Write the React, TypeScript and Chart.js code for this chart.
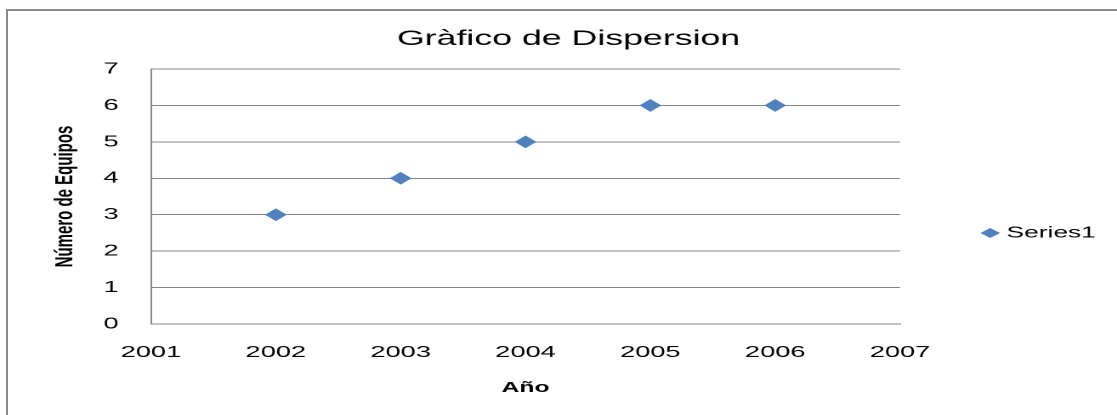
import React, { useEffect, useRef } from 'react';
import { Chart, registerables } from 'chart.js';

Chart.register(...registerables);

// ---- data ----
const chartTitle = 'Gràfico de Dispersion';
const seriesName = 'Series1';
const years = [2002, 2003, 2004, 2005, 2006];
const teams = [3, 4, 5, 6, 6];
const xTickLabels = ['2001', '2002', '2003', '2004', '2005', '2006', '2007'];
const yTickLabels = ['0', '1', '2', '3', '4', '5', '6', '7'];
const xAxisTitle = 'Año';
const yAxisTitle = 'Número de Equipos';

// ---- look ----
// The reference is horizontally stretched: the chart is drawn on a narrower
// logical canvas and displayed at full page width.
const W = 657;
const H = 415;
const DISPLAY_W = 1117;
const FONT = "'Liberation Sans', Arial, sans-serif";
const BLUE = '#4f81bd';
const GRID = '#868686';

const textPlugin = {
  id: 'excelText',
  afterDraw(chart: any) {
    const ctx = chart.ctx as CanvasRenderingContext2D;
    ctx.save();
    ctx.fillStyle = '#000';
    ctx.font = `21px ${FONT}`;
    ctx.textAlign = 'center';
    ctx.textBaseline = 'middle';
    ctx.fillText(chartTitle, 334.4, 39);

    const ds = chart.data.datasets[0];
    const mx = 582.4;
    const my = 233;
    const rx = 5.8;
    const ry = 5;
    ctx.fillStyle = ds.backgroundColor;
    ctx.beginPath();
    ctx.moveTo(mx, my - ry);
    ctx.lineTo(mx + rx, my);
    ctx.lineTo(mx, my + ry);
    ctx.lineTo(mx - rx, my);
    ctx.closePath();
    ctx.fill();

    ctx.fillStyle = '#000';
    ctx.font = `15.5px ${FONT}`;
    ctx.textAlign = 'left';
    ctx.fillText(ds.label, 592, my);
    ctx.restore();
  },
};

export default function App() {
  const ref = useRef<HTMLCanvasElement | null>(null);

  useEffect(() => {
    const canvas = ref.current;
    if (!canvas) return;
    const chart = new Chart(canvas, {
      type: 'scatter',
      data: {
        datasets: [
          {
            label: seriesName,
            data: years.map((x, i) => ({ x, y: teams[i] })),
            backgroundColor: BLUE,
            borderColor: BLUE,
            pointStyle: 'rectRot',
            pointRadius: 6.4,
            pointHoverRadius: 6.4,
            pointBorderWidth: 0,
          },
        ],
      },
      options: {
        responsive: false,
        animation: false,
        devicePixelRatio: 2,
        events: [],
        layout: { padding: { left: 0, right: W - 529.4, top: 69, bottom: 0 } },
        plugins: {
          legend: { display: false },
          title: { display: false },
          tooltip: { enabled: false },
        },
        scales: {
          x: {
            type: 'linear',
            position: 'bottom',
            min: 2001,
            max: 2007,
            afterFit: (s: any) => {
              s.height = H - 324;
            },
            grid: { display: false, drawTicks: false },
            border: { display: true, color: GRID, width: 1 },
            ticks: {
              stepSize: 1,
              padding: 19,
              color: '#000',
              maxRotation: 0,
              autoSkip: false,
              font: { family: FONT, size: 16 },
              callback: (_v: any, i: number) => xTickLabels[i],
            },
            title: {
              display: true,
              text: xAxisTitle,
              color: '#000',
              font: { family: FONT, size: 14.5, weight: 'bold' },
              padding: { top: 0, bottom: 18.3 },
            },
          },
          y: {
            type: 'linear',
            min: 0,
            max: 7,
            afterFit: (s: any) => {
              s.width = 88.8;
            },
            grid: { color: GRID, lineWidth: 1, drawTicks: false },
            border: { display: true, color: GRID, width: 1 },
            ticks: {
              stepSize: 1,
              padding: 19,
              color: '#000',
              autoSkip: false,
              font: { family: FONT, size: 16 },
              callback: (_v: any, i: number) => yTickLabels[i],
            },
            title: {
              display: true,
              text: yAxisTitle,
              color: '#000',
              font: { family: FONT, size: 15, weight: 'bold' },
              padding: { top: 29.5, bottom: 0 },
            },
          },
        },
      },
      plugins: [textPlugin],
    } as any);
    return () => chart.destroy();
  }, []);

  return (
    <div
      style={{
        position: 'fixed',
        left: 0,
        top: 0,
        width: DISPLAY_W,
        height: H,
        overflow: 'hidden',
        background: '#fff',
      }}
    >
      <canvas
        ref={ref}
        width={W}
        height={H}
        style={{ position: 'absolute', left: 0, top: 0, width: `${DISPLAY_W}px`, height: `${H}px` }}
      />
      <div
        style={{
          position: 'absolute',
          left: 6,
          top: 9,
          width: DISPLAY_W + 10,
          height: H + 10,
          borderLeft: '2px solid #8a8a8a',
          borderTop: '2px solid #8a8a8a',
          pointerEvents: 'none',
        }}
      />
    </div>
  );
}
